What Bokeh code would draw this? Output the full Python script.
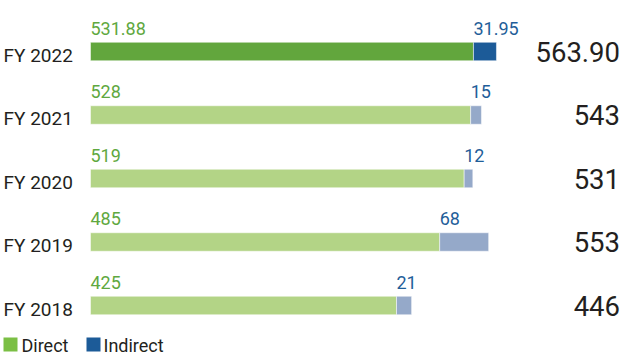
from bokeh.plotting import figure
from bokeh.models import Range1d, ColumnDataSource
from bokeh.core.properties import value
from bokeh.embed import file_html
from bokeh.resources import INLINE

# ---- data ----
years = ["FY 2022", "FY 2021", "FY 2020", "FY 2019", "FY 2018"]
direct = [531.88, 528, 519, 485, 425]
indirect = [31.95, 15, 12, 68, 21]
direct_labels = ["531.88", "528", "519", "485", "425"]
indirect_labels = ["31.95", "15", "12", "68", "21"]
total_labels = ["563.90", "543", "531", "553", "446"]

# ---- layout constants ----
W, H = 626, 355
X0_PX = 90          # pixel where value 0 sits
PX_PER_UNIT = 0.72
Y_FIRST = 51        # pixel centre of the first bar (from top)
Y_STEP = 63.5
BAR_H = 18.5
FONT = value("Roboto")
SHIFT = 0.33        # baseline correction (em)

def dx(px):
    return (px - X0_PX) / PX_PER_UNIT

n = len(years)
ys = [Y_FIRST + i * Y_STEP for i in range(n)]
direct_colors = ["#62a63d"] + ["#b3d486"] * (n - 1)
indirect_colors = ["#1c5b98"] + ["#95a9c9"] * (n - 1)
right = [d + s for d, s in zip(direct, indirect)]

FS_LAB, FS_YEAR, FS_TOT, FS_LEG = 18, 19, 27.5, 18

src = ColumnDataSource(dict(
    y=ys, year=years, direct=direct, indirect=indirect, right=right,
    dl=direct_labels, il=indirect_labels, tl=total_labels,
    dc=direct_colors, ic=indirect_colors,
    zero=[0] * n,
    lab_y=[y - 17.5 - SHIFT * FS_LAB for y in ys],
    year_y=[y + 10 - SHIFT * FS_YEAR for y in ys],
    tot_y=[y + 9.5 - SHIFT * FS_TOT for y in ys],
    year_x=[dx(3)] * n,
    tot_x=[dx(619.5)] * n,
))

p = figure(width=W, height=H, output_backend="svg", toolbar_location=None,
           x_axis_type=None, y_axis_type=None,
           x_range=Range1d(dx(0), dx(W)), y_range=Range1d(H, 0),
           min_border=0, outline_line_color=None, background_fill_color="white",
           border_fill_color="white")
p.grid.visible = False

p.hbar(y="y", left="zero", right="direct", height=BAR_H, fill_color="dc",
       line_color="white", line_alpha=0.5, line_width=1, source=src)
p.hbar(y="y", left="direct", right="right", height=BAR_H, fill_color="ic",
       line_color="white", line_alpha=0.5, line_width=1, source=src)

p.text(x="zero", y="lab_y", text="dl", text_font=FONT, text_font_size=f"{FS_LAB}px",
       text_color="#5fa840", text_align="left", text_baseline="alphabetic", source=src)
p.text(x="direct", y="lab_y", text="il", text_font=FONT, text_font_size=f"{FS_LAB}px",
       text_color="#1f5e99", text_align="left", text_baseline="alphabetic", source=src)
p.text(x="year_x", y="year_y", text="year", text_font=FONT, text_font_size=f"{FS_YEAR}px",
       text_color="#231f20", text_align="left", text_baseline="alphabetic", source=src)
p.text(x="tot_x", y="tot_y", text="tl", text_font=FONT, text_font_size=f"{FS_TOT}px",
       text_color="#231f20", text_align="right", text_baseline="alphabetic", source=src)

# legend
legend_names = ["Direct", "Indirect"]
legend_colors = ["#7bbf44", "#1c5b98"]
leg_sq_px = [10, 93]
leg_txt_px = [21, 103]
p.scatter(x=[dx(v) for v in leg_sq_px], y=[344] * 2, marker="square", size=14,
          fill_color=legend_colors, line_color=None)
p.text(x=[dx(v) for v in leg_txt_px], y=[350.5 - SHIFT * FS_LEG] * 2, text=legend_names,
       text_font=FONT, text_font_size=f"{FS_LEG}px", text_color="#231f20",
       text_align="left", text_baseline="alphabetic")

open("out.html", "w").write(file_html(p, INLINE))
